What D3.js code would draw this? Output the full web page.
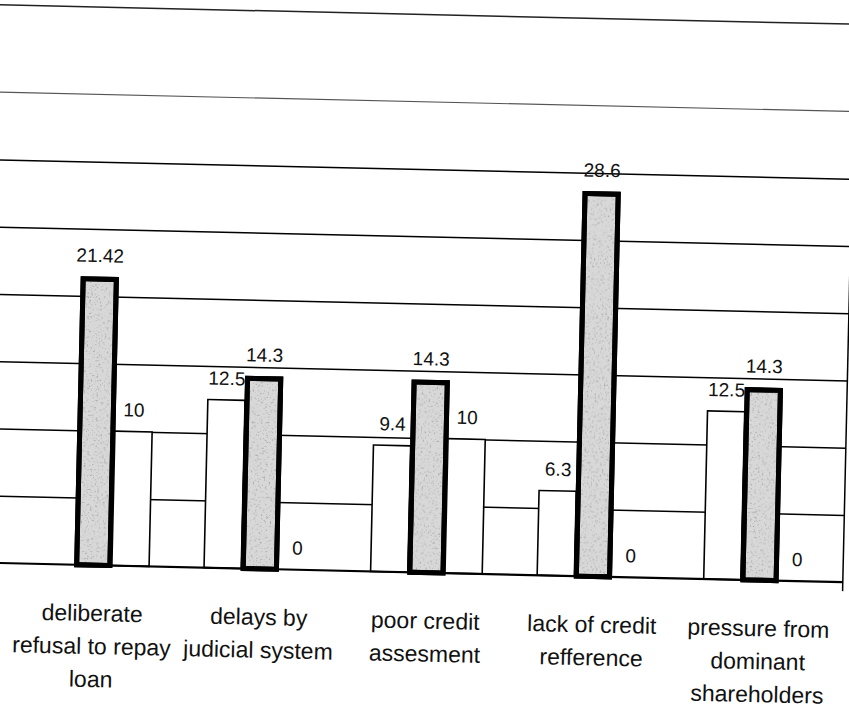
<!DOCTYPE html>
<html>
<head>
<meta charset="utf-8">
<script src="https://cdn.jsdelivr.net/npm/d3@7"></script>
<style>
  body { margin: 0; background: #fff; }
  svg { display: block; }
</style>
</head>
<body>
<svg id="chart" width="849" height="712"></svg>
<script>
const categories = [
    ["deliberate", "refusal to repay", "loan"],
    ["delays by", "judicial system"],
    ["poor credit", "assesment"],
    ["lack of credit", "refference"],
    ["pressure from", "dominant", "shareholders"]
];
const seriesA = [null, 12.5, 9.4, 6.3, 12.5];
const seriesB = [21.42, 14.3, 14.3, 28.6, 14.3];
const seriesC = [10, 0, 10, 0, 0];
const gridTicks = [5, 10, 15, 20, 25, 30];

const svg = d3.select("#chart");

// speckled grey like the printed bars
const filter = svg.append("defs").append("filter")
    .attr("id", "speckle")
    .attr("x", 0).attr("y", 0).attr("width", 1).attr("height", 1);
filter.append("feTurbulence")
    .attr("type", "fractalNoise")
    .attr("baseFrequency", 0.55)
    .attr("numOctaves", 2)
    .attr("seed", 4)
    .attr("result", "noise");
filter.append("feColorMatrix")
    .attr("in", "noise")
    .attr("type", "matrix")
    .attr("values", "0 0 0 0 0.35  0 0 0 0 0.35  0 0 0 0 0.35  4 0 0 0 -2.3")
    .attr("result", "dots");
filter.append("feComposite")
    .attr("in", "dots")
    .attr("in2", "SourceGraphic")
    .attr("operator", "in");

// the scan is tilted a little, so the whole chart is turned round the left end of the baseline
const base = 563;
const g = svg.append("g")
    .attr("transform", `rotate(1.3, 0, ${base})`);

const names = categories.map(d => d.join(" "));

const x = d3.scaleBand()
    .domain(names)
    .range([10, 843])
    .paddingInner(0.33)
    .paddingOuter(0.165);

const xs = d3.scaleBand()
    .domain([0, 1, 2])
    .range([0, x.bandwidth()]);

const y = d3.scaleLinear()
    .domain([0, 35])
    .range([base, base - 35 * 13.45]);

// outer chart border (only the top edge shows)
g.append("line")
    .attr("x1", -60).attr("x2", 900)
    .attr("y1", 5).attr("y2", 5)
    .attr("stroke", "#222")
    .attr("stroke-width", 1.5);

// gridlines
g.append("g")
    .attr("transform", "translate(-60,0)")
    .call(d3.axisLeft(y).tickValues(gridTicks).tickSize(-(843 + 60)).tickFormat(""))
    .call(a => a.select(".domain").remove())
    .selectAll("line")
    .attr("stroke", "#000")
    .attr("stroke-width", 1.5);

// plot area top and right edge
g.append("line")
    .attr("x1", -60).attr("x2", 843)
    .attr("y1", y(35)).attr("y2", y(35))
    .attr("stroke", "#555")
    .attr("stroke-width", 1.1);
g.append("line")
    .attr("x1", 843).attr("x2", 843)
    .attr("y1", y(35)).attr("y2", y(0) + 9)
    .attr("stroke", "#000")
    .attr("stroke-width", 1.5);

function drawSeries(values, idx, style) {
    const data = values.map((v, i) => ({ v, cat: names[i] })).filter(d => d.v !== null);
    const bars = g.append("g").selectAll("g")
        .data(data)
        .enter().append("g");
    bars.append("rect")
        .attr("x", d => x(d.cat) + xs(idx) + style.inset)
        .attr("y", d => y(d.v) + style.inset)
        .attr("width", xs.bandwidth() - style.inset * 2)
        .attr("height", d => Math.max(0, y(0) - y(d.v) - style.inset))
        .attr("fill", style.fill)
        .attr("stroke", "#000")
        .attr("stroke-width", style.stroke);
    if (style.texture) {
        bars.append("rect")
            .attr("x", d => x(d.cat) + xs(idx) + style.inset)
            .attr("y", d => y(d.v) + style.inset)
            .attr("width", xs.bandwidth() - style.inset * 2)
            .attr("height", d => Math.max(0, y(0) - y(d.v) - style.inset))
            .attr("fill", "#000")
            .attr("filter", "url(#speckle)");
        bars.append("rect")
            .attr("x", d => x(d.cat) + xs(idx) + style.inset)
            .attr("y", d => y(d.v) + style.inset)
            .attr("width", xs.bandwidth() - style.inset * 2)
            .attr("height", d => Math.max(0, y(0) - y(d.v) - style.inset))
            .attr("fill", "none")
            .attr("stroke", "#000")
            .attr("stroke-width", style.stroke);
    }
    g.append("g").selectAll("text")
        .data(data)
        .enter().append("text")
        .attr("x", d => x(d.cat) + xs(idx) + xs.bandwidth() / 2)
        .attr("y", d => y(d.v) - 15)
        .attr("text-anchor", "middle")
        .attr("font-family", "Liberation Sans, Arial, sans-serif")
        .attr("font-size", 19)
        .attr("fill", "#111")
        .text(d => d.v);
}

drawSeries(seriesA, 0, { fill: "#fff", stroke: 1.6, inset: 0 });
drawSeries(seriesB, 1, { fill: "#d8d8d8", stroke: 5, inset: 2, texture: true });
drawSeries(seriesC, 2, { fill: "#fff", stroke: 1.6, inset: 0 });

// baseline
g.append("line")
    .attr("x1", -60).attr("x2", 843)
    .attr("y1", y(0)).attr("y2", y(0))
    .attr("stroke", "#000")
    .attr("stroke-width", 2.2);

// category labels
const labels = g.append("g")
    .selectAll("text")
    .data(categories)
    .enter().append("text")
    .attr("text-anchor", "middle")
    .attr("font-family", "Liberation Sans, Arial, sans-serif")
    .attr("font-size", 23)
    .attr("fill", "#111");

labels.selectAll("tspan")
    .data((d, i) => d.map(line => ({ line, cat: names[i] })))
    .enter().append("tspan")
    .attr("x", d => x(d.cat) + x.bandwidth() / 2)
    .attr("y", (d, j) => base + 56 + j * 33)
    .text(d => d.line);
</script>
</body>
</html>
